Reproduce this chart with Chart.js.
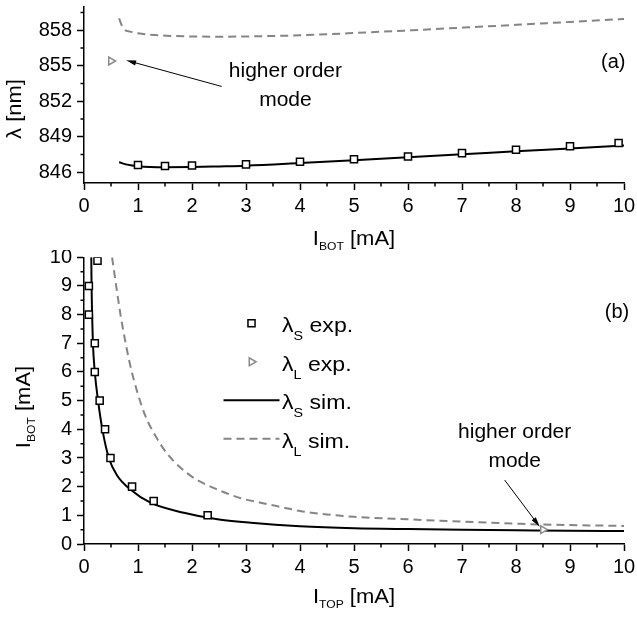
<!DOCTYPE html>
<html>
<head>
<meta charset="utf-8">
<script src="https://cdn.jsdelivr.net/npm/chart.js@4.4.1/dist/chart.umd.min.js"></script>
<style>
  html, body { margin: 0; padding: 0; background: #fff; }
  #wrap { position: relative; width: 637px; height: 618px; }
  #wrap canvas { position: absolute; left: 0; }
  #chart-a { top: 0; }
  #chart-b { top: 250px; }
</style>
</head>
<body>
<div id="wrap">
  <canvas id="chart-a" width="637" height="250"></canvas>
  <canvas id="chart-b" width="637" height="368"></canvas>
</div>
<script>
const FONT = "'Liberation Sans', Arial, Helvetica, sans-serif";

// ---- (a) wavelength vs. bottom contact current ----
const aExpSX = [1, 1.5, 2, 3, 4, 5, 6, 7, 8, 9, 9.9];
const aExpSY = [846.62, 846.54, 846.58, 846.67, 846.89, 847.11, 847.34, 847.62, 847.9, 848.2, 848.48];
const aExpLX = [0.5];
const aExpLY = [855.4];
const aSimSX = [0.65, 0.8, 1, 1.5, 2, 2.5, 3, 4, 5, 6, 7, 8, 9, 10];
const aSimSY = [846.85, 846.65, 846.52, 846.44, 846.45, 846.5, 846.56, 846.78, 847.02, 847.27, 847.52, 847.78, 848.02, 848.27];
const aSimLX = [0.65, 0.7, 0.75, 0.85, 1, 1.2, 1.6, 2, 2.5, 3, 4, 5, 6, 7, 8, 9, 10];
const aSimLY = [859.0, 858.4, 858.05, 857.88, 857.74, 857.63, 857.52, 857.47, 857.45, 857.47, 857.57, 857.76, 857.98, 858.21, 858.45, 858.7, 858.95];

// ---- (b) operating points in the I_TOP / I_BOT plane ----
const bExpSX = [0.25, 0.09, 0.09, 0.2, 0.2, 0.29, 0.39, 0.49, 0.89, 1.29, 2.29];
const bExpSY = [9.88, 9, 8, 7, 6, 5, 4, 3, 2, 1.5, 1];
const bExpLX = [8.5];
const bExpLY = [0.5];
const bSimSX = [0.135, 0.14, 0.15, 0.165, 0.2, 0.26, 0.34, 0.46, 0.62, 0.86, 1.23, 1.85, 2.47, 3.09, 4, 5, 6, 7, 8, 9, 10];
const bSimSY = [10, 9, 8, 7, 6, 5, 4, 3, 2.37, 1.9, 1.44, 1.09, 0.86, 0.74, 0.62, 0.55, 0.52, 0.5, 0.48, 0.46, 0.45];
const bSimLX = [0.52, 0.6, 0.68, 0.77, 0.86, 0.99, 1.14, 1.33, 1.54, 1.79, 2.07, 2.47, 2.9, 3.27, 3.7, 4, 4.5, 5, 6, 7, 8, 8.5, 9, 10];
const bSimLY = [10, 8.95, 7.95, 7.02, 6.2, 5.28, 4.45, 3.75, 3.15, 2.66, 2.26, 1.9, 1.6, 1.44, 1.27, 1.15, 1.03, 0.95, 0.86, 0.78, 0.71, 0.68, 0.66, 0.63];

const labelExpS = 'λ_{S} exp.';
const labelExpL = 'λ_{L} exp.';
const labelSimS = 'λ_{S} sim.';
const labelSimL = 'λ_{L} sim.';

const pts = (xs, ys) => xs.map((x, i) => ({ x, y: ys[i] }));

// marker / line looks shared by both panels
const squareStyle = { pointStyle: 'rect', pointRadius: 5, pointBorderColor: '#000', pointBackgroundColor: '#fff', pointBorderWidth: 1.5, borderColor: '#000', backgroundColor: '#fff', showLine: false };
const triangleStyle = { pointStyle: 'triangle', pointRotation: 90, pointRadius: 4.5, pointBorderColor: '#8a8a8a', pointBackgroundColor: '#fff', pointBorderWidth: 1.5, borderColor: '#8a8a8a', backgroundColor: '#fff', showLine: false };
const solidStyle = { showLine: true, pointRadius: 0, borderColor: '#000', borderWidth: 2, cubicInterpolationMode: 'monotone' };
const dashedStyle = { showLine: true, pointRadius: 0, borderColor: '#858585', borderWidth: 2, borderDash: [8, 5], cubicInterpolationMode: 'monotone' };

// "λ_{S} exp." -> [['λ', false], ['S', true], [' exp.', false]]
function parseRich(str) {
  const parts = [];
  const re = /_\{([^}]*)\}/g;
  let last = 0, m;
  while ((m = re.exec(str))) {
    if (m.index > last) parts.push([str.slice(last, m.index), false]);
    parts.push([m[1], true]);
    last = re.lastIndex;
  }
  if (last < str.length) parts.push([str.slice(last), false]);
  return parts;
}

// text with subscripts; (x, y) is the baseline anchor
function drawRich(ctx, str, x, y, o) {
  const parts = parseRich(str);
  const size = o.size || 20, subSize = o.subSize || 12, subOff = o.subOff || 5, sx = o.stretch || 1;
  let w = 0;
  for (const [t, s] of parts) {
    ctx.font = (s ? subSize : size) + 'px ' + FONT;
    w += ctx.measureText(t).width;
  }
  ctx.save();
  ctx.translate(x, y);
  if (o.rotate) ctx.rotate(-Math.PI / 2);
  ctx.scale(sx, 1);
  ctx.fillStyle = '#000';
  ctx.textAlign = 'left';
  ctx.textBaseline = 'alphabetic';
  let cx = o.align === 'left' ? 0 : -w / 2;
  for (const [t, s] of parts) {
    ctx.font = (s ? subSize : size) + 'px ' + FONT;
    ctx.fillText(t, cx, s ? subOff : 0);
    cx += ctx.measureText(t).width;
  }
  ctx.restore();
}

function drawArrow(ctx, x0, y0, x1, y1) {
  const ang = Math.atan2(y1 - y0, x1 - x0);
  const len = 10, half = 2.6;
  ctx.save();
  ctx.strokeStyle = '#000';
  ctx.fillStyle = '#000';
  ctx.lineWidth = 1;
  ctx.beginPath();
  ctx.moveTo(x0, y0);
  ctx.lineTo(x1 - Math.cos(ang) * len * 0.8, y1 - Math.sin(ang) * len * 0.8);
  ctx.stroke();
  ctx.beginPath();
  ctx.moveTo(x1, y1);
  ctx.lineTo(x1 - Math.cos(ang) * len - Math.sin(ang) * half, y1 - Math.sin(ang) * len + Math.cos(ang) * half);
  ctx.lineTo(x1 - Math.cos(ang) * len + Math.sin(ang) * half, y1 - Math.sin(ang) * len - Math.cos(ang) * half);
  ctx.closePath();
  ctx.fill();
  ctx.restore();
}

// short ticks halfway between the labelled ones
const minorTicks = {
  id: 'minorTicks',
  afterDraw(chart) {
    const ctx = chart.ctx;
    ctx.save();
    ctx.strokeStyle = '#000';
    ctx.lineWidth = 1.5;
    ctx.beginPath();
    for (const scale of [chart.scales.x, chart.scales.y]) {
      const vals = scale.ticks.map(t => t.value);
      const half = (vals[1] - vals[0]) / 2;
      const mids = [vals[0] - half].concat(vals.map(v => v + half)).filter(v => v >= scale.min && v <= scale.max);
      for (const v of mids) {
        const p = scale.getPixelForValue(v);
        if (scale.isHorizontal()) { ctx.moveTo(p, scale.top); ctx.lineTo(p, scale.top + 3.5); }
        else { ctx.moveTo(scale.right - 3.5, p); ctx.lineTo(scale.right, p); }
      }
    }
    ctx.stroke();
    ctx.restore();
  }
};

// axis titles, panel tag and the "higher order mode" note
const figureText = {
  id: 'figureText',
  afterDraw(chart, args, opts) {
    const ctx = chart.ctx;
    const xs = chart.scales.x, ys = chart.scales.y;
    const area = chart.chartArea;
    const cx = (area.left + area.right) / 2;
    drawRich(ctx, opts.xTitle, cx, opts.xTitleY, { size: 20, subSize: 11, subOff: 4.5, stretch: 1.1 });
    drawRich(ctx, opts.yTitle, opts.yTitleX, opts.yTitleCenter, { size: 20, subSize: 11, subOff: 4.5, stretch: 1.1, rotate: true });
    drawRich(ctx, opts.tag.text, xs.getPixelForValue(opts.tag.x), ys.getPixelForValue(opts.tag.y), { size: 20 });
    const n = opts.note;
    n.lines.forEach((line, i) => {
      drawRich(ctx, line, xs.getPixelForValue(n.x), ys.getPixelForValue(n.y[i]), { size: 21 });
    });
    drawArrow(ctx, xs.getPixelForValue(n.from[0]), ys.getPixelForValue(n.from[1]),
      xs.getPixelForValue(n.to[0]), ys.getPixelForValue(n.to[1]));
  }
};

// legend drawn from the datasets' own styles
const rowLegend = {
  id: 'rowLegend',
  afterDraw(chart, args, opts) {
    if (!opts.show) return;
    const ctx = chart.ctx;
    const area = chart.chartArea;
    chart.data.datasets.forEach((ds, i) => {
      const y = area.top + opts.top + i * opts.rowGap;
      const xm = area.left + opts.markerX;
      ctx.save();
      if (ds.showLine) {
        ctx.strokeStyle = ds.borderColor;
        ctx.lineWidth = ds.borderWidth;
        ctx.setLineDash(ds.borderDash || []);
        ctx.beginPath();
        ctx.moveTo(xm - opts.lineHalf, y);
        ctx.lineTo(xm + opts.lineHalf, y);
        ctx.stroke();
      } else {
        ctx.fillStyle = ds.pointBackgroundColor;
        ctx.strokeStyle = ds.pointBorderColor;
        ctx.lineWidth = ds.pointBorderWidth;
        Chart.helpers.drawPoint(ctx, { pointStyle: ds.pointStyle, rotation: ds.pointRotation || 0, radius: ds.pointRadius, borderWidth: ds.pointBorderWidth }, xm, y);
      }
      ctx.restore();
      drawRich(ctx, ds.label, area.left + opts.textX, y + 9, { size: 21, subSize: 13, subOff: 8, stretch: 1.1, align: 'left' });
    });
  }
};

function axis(pos, min, max, step, fitSize) {
  return {
    type: 'linear',
    position: pos,
    min: min,
    max: max,
    ticks: {
      stepSize: step,
      includeBounds: false,
      autoSkip: false,
      maxRotation: 0,
      color: '#000',
      padding: pos === 'bottom' ? 4 : 5,
      font: { family: FONT, size: 20 }
    },
    grid: { drawOnChartArea: false, drawTicks: true, tickLength: 7, tickWidth: 1.5, tickColor: '#000' },
    border: { display: true, color: '#000', width: 1.5 },
    afterFit(scale) {
      if (pos === 'bottom') scale.height = fitSize; else scale.width = fitSize;
      scale.paddingTop = 0; scale.paddingBottom = 0;
      scale.paddingLeft = 0; scale.paddingRight = 0;
    }
  };
}

function makeChart(id, datasets, cfg) {
  return new Chart(document.getElementById(id), {
    type: 'scatter',
    data: { datasets: datasets },
    options: {
      responsive: false,
      animation: false,
      events: [],
      layout: { padding: { top: cfg.padTop, right: 13, bottom: 0, left: 0 } },
      scales: {
        x: axis('bottom', 0, 10, 1, cfg.xHeight),
        y: axis('left', cfg.yMin, cfg.yMax, cfg.yStep, 84)
      },
      plugins: {
        legend: { display: false },
        tooltip: { enabled: false },
        figureText: cfg.text,
        rowLegend: cfg.legend || { show: false }
      }
    },
    plugins: [minorTicks, figureText, rowLegend]
  });
}

makeChart('chart-a', [
  Object.assign({ label: labelExpS, data: pts(aExpSX, aExpSY) }, squareStyle),
  Object.assign({ label: labelExpL, data: pts(aExpLX, aExpLY) }, triangleStyle),
  Object.assign({ label: labelSimS, data: pts(aSimSX, aSimSY) }, solidStyle),
  Object.assign({ label: labelSimL, data: pts(aSimLX, aSimLY) }, dashedStyle)
], {
  padTop: 5, xHeight: 67, yMin: 845.1, yMax: 860, yStep: 3,
  text: {
    xTitle: 'I_{BOT} [mA]', xTitleY: 245,
    yTitle: 'λ [nm]', yTitleX: 21, yTitleCenter: 109,
    tag: { text: '(a)', x: 9.8, y: 854.78 },
    note: { lines: ['higher order', 'mode'], x: 3.73, y: [854.06, 851.63], from: [2.55, 853.25], to: [0.78, 855.46] }
  }
});

makeChart('chart-b', [
  Object.assign({ label: labelExpS, data: pts(bExpSX, bExpSY) }, squareStyle),
  Object.assign({ label: labelExpL, data: pts(bExpLX, bExpLY) }, triangleStyle),
  Object.assign({ label: labelSimS, data: pts(bSimSX, bSimSY) }, solidStyle),
  Object.assign({ label: labelSimL, data: pts(bSimLX, bSimLY) }, dashedStyle)
], {
  padTop: 7.3, xHeight: 74, yMin: 0, yMax: 10, yStep: 1,
  text: {
    xTitle: 'I_{TOP} [mA]', xTitleY: 353,
    yTitle: 'I_{BOT} [mA]', yTitleX: 30, yTitleCenter: 157,
    tag: { text: '(b)', x: 9.87, y: 7.9 },
    note: { lines: ['higher order', 'mode'], x: 7.975, y: [3.7, 2.7], from: [7.79, 2.23], to: [8.44, 0.6] }
  },
  legend: { show: true, top: 66, rowGap: 38.5, markerX: 167.5, lineHalf: 28, textX: 198 }
});
</script>
</body>
</html>
